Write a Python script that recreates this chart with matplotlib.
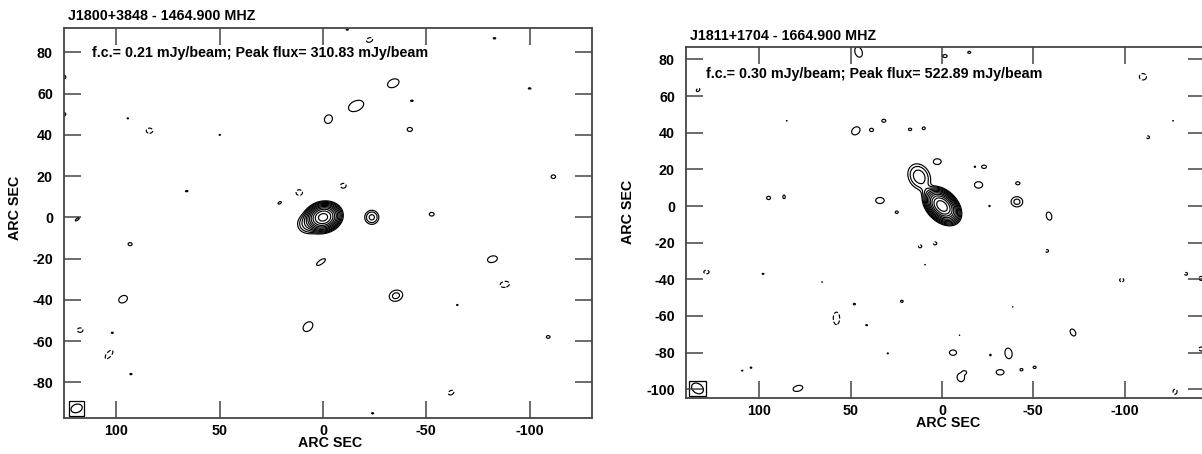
import numpy as np
import matplotlib
matplotlib.use("Agg")
import matplotlib.pyplot as plt
from matplotlib.patches import Rectangle, Ellipse

plt.rcParams['font.family'] = ['Liberation Sans', 'DejaVu Sans']
plt.rcParams['font.weight'] = 'bold'
plt.rcParams['axes.unicode_minus'] = False

W, H = 1202, 454
FS = 10.3

# ---------------- data: left map (J1800+3848) ----------------
title_L = "J1800+3848 - 1464.900 MHZ"
fc_text_L = "f.c.= 0.21 mJy/beam; Peak flux= 310.83 mJy/beam"
fc_L = 0.21
peak_L = 310.83
# sources: x, y (arcsec), peak (in units of f.c.), sigma major, sigma minor, angle (deg, data coords)
L_x    = [0.0, 6.0, -23.6, -16, -34, -2.6, -42, -43, -22.5, -11.7, -83, -100, 126, 126, 84, 94.5, 50, 66, 21, 11.5, -9.8, -52.6, -111.5, 119, 93.4, 1, 96.8, -82, -88, -35.3, -65, 7.3, 117.6, 102, 103.6, 93, -24, -62, -109]
L_y    = [0.0, -2.5, 0.0, 54, 65, 47.6, 42.6, 56.5, 86, 91, 86.8, 62.5, 68, 50, 42, 48, 40, 12.7, 7, 12, 15.3, 1.5, 19.7, -1, -13, -21.7, -39.7, -20.3, -32.5, -38, -42.5, -53, -54.7, -56, -66.5, -76, -95, -85, -58]
L_peak = [1480, 10, 5, 1.6, 1.6, 1.6, 1.6, 1.15, -1.6, 1.15, 1.15, 1.15, 1.6, 1.6, -1.6, 1.1, 1.1, 1.15, 1.3, -1.6, -1.6, 1.6, 1.6, 1.3, 1.4, 1.6, 1.6, 1.6, -1.6, 2.6, 1.1, 1.6, -1.5, 1.15, -1.6, 1.15, 1.15, -1.5, 1.4]
L_smaj = [2.6, 3.0, 1.9, 4.0, 3.0, 2.2, 1.3, 1.2, 1.6, 1.0, 1.2, 1.2, 1.5, 1.5, 1.6, 0.8, 0.8, 1.2, 1.2, 1.6, 1.4, 1.2, 1.1, 1.6, 1.2, 2.6, 2.3, 2.5, 2.3, 2.4, 0.9, 2.8, 1.5, 0.9, 2.6, 1.0, 1.0, 1.6, 1.1]
L_smin = [2.05, 2.4, 1.9, 2.5, 2.0, 1.9, 1.0, 0.6, 1.1, 0.5, 0.6, 0.6, 1.1, 1.1, 1.3, 0.6, 0.6, 0.6, 0.7, 1.4, 1.2, 0.9, 0.9, 0.6, 0.9, 1.0, 1.7, 1.6, 1.5, 1.9, 0.6, 2.0, 1.2, 0.6, 1.2, 0.6, 0.6, 1.1, 0.8]
L_ang  = [-15, -20, 0, -25, -25, -60, 0, 0, -20, 0, 0, 0, 0, 0, 0, 0, 0, 0, -30, 0, 0, 0, 0, -35, 0, -35, -30, -15, -10, -20, 0, -45, 0, 0, -50, 0, 0, -30, 0]
L_beam = (5.6, 4.0, -20)   # full major, full minor (arcsec), angle

# ---------------- data: right map (J1811+1704) ----------------
title_R = "J1811+1704 - 1664.900 MHZ"
fc_text_R = "f.c.= 0.30 mJy/beam; Peak flux= 522.89 mJy/beam"
fc_R = 0.30
peak_R = 522.89
R_x    = [0.0, 12.5, 7.5, 2.6, -23, -18, -20, -41.5, -41, -26, 34, 24.8, -58.6, 12, 3.8, 9.3, -57.5, 95, 86.5, 129, 98, 65.7, 48, 57.8, 41.3, 22, -38.7, -9.6, -71.7, 29.7, -6, -26.5, -36.4, -10.3, -12.4, -31.8, -43.5, -50.7, 109.4, 104.6, 78.9, -127.6, -133.6, -142, -142, -98.4, -112.8, -126.5, -110, 45.7, -1.6, -14.9, 133.6, 85, 47.2, 38.6, 31.9, 17.5, 10]
R_y    = [0.0, 16.0, 7.0, 24.2, 21.4, 21.4, 11.5, 12.4, 2.3, 0, 3, -3.4, -5.5, -22, -20.4, -32, -24.5, 4.4, 5, -36, -37, -41.5, -53.5, -61.3, -65, -52, -55, -70.4, -69, -80.4, -80, -81.3, -80.4, -93.5, -90.7, -90.7, -89.3, -88, -89.8, -88.2, -99.5, -101.3, -37, -39.5, -78, -40.4, 37.5, 46.5, 70.5, 84, 81.8, 83.8, 63.3, 46.5, 41, 41.5, 46.5, 41.8, 42.4]
R_peak = [1743, 6.5, 3.2, 1.6, 1.5, 1.1, 1.6, 1.5, 2.6, 1.1, 1.6, 1.4, 1.6, -1.5, -1.5, 1.05, -1.4, 1.5, 1.4, -1.6, 1.15, 1.05, 1.2, -1.6, 1.15, 1.3, 1.05, 1.05, 1.6, 1.1, 1.6, 1.15, 1.6, 1.6, 1.3, 1.6, 1.4, 1.4, 1.1, 1.15, 1.6, -1.5, -1.4, -1.5, -1.5, -1.5, -1.4, 1.05, -1.6, 1.6, 1.5, 1.4, -1.5, 1.05, 1.6, 1.5, 1.5, 1.4, 1.4]
R_smaj = [3.3, 3.8, 3.0, 2.2, 1.5, 0.8, 2.3, 1.3, 2.3, 0.8, 2.4, 1.0, 2.3, 1.0, 1.0, 0.7, 1.0, 1.2, 1.2, 1.5, 1.0, 0.7, 1.0, 3.5, 1.0, 1.0, 0.6, 0.6, 2.1, 0.8, 2.0, 0.8, 3.0, 2.4, 1.0, 2.2, 1.0, 1.0, 0.8, 0.9, 2.8, 1.5, 1.0, 1.5, 1.5, 1.3, 1.0, 0.7, 2.0, 3.0, 1.3, 1.0, 1.2, 0.7, 2.6, 1.2, 1.2, 1.1, 1.0]
R_smin = [2.2, 3.0, 1.8, 1.6, 1.0, 0.8, 1.8, 0.9, 2.0, 0.8, 1.7, 0.8, 1.5, 0.9, 0.9, 0.6, 0.9, 1.0, 0.8, 1.0, 0.5, 0.6, 0.7, 1.8, 0.5, 0.8, 0.5, 0.5, 1.4, 0.6, 1.5, 0.8, 2.0, 2.1, 0.8, 1.5, 0.8, 0.8, 0.6, 0.6, 1.6, 1.2, 0.9, 1.2, 1.2, 1.0, 0.9, 0.6, 1.8, 2.0, 0.9, 0.7, 0.8, 0.6, 2.0, 1.0, 0.9, 0.8, 0.9]
R_ang  = [45, 60, 60, 0, 0, 0, 0, 0, 0, 0, 0, 0, 75, 0, 0, 0, 0, 0, 90, 0, 0, 0, 0, 90, 0, 0, 0, 0, 60, 0, 0, 0, 80, 80, 0, 0, 0, 0, 0, 0, -15, 90, 0, 0, 0, 0, 0, 0, 0, 70, 0, 0, -40, 0, -40, 0, 0, 0, 0]
R_beam = (7.0, 5.2, 35)

levels = [-1] + [2 ** k for k in range(11)]

xg = np.arange(-150, 150.01, 0.25)
yg = np.arange(-110, 100.01, 0.25)
XX, YY = np.meshgrid(xg, yg)


def model(xs, ys, pk, smaj, smin, ang):
    img = np.zeros_like(XX)
    for x0, y0, a, s1, s2, t in zip(xs, ys, pk, smaj, smin, ang):
        th = np.deg2rad(t)
        dx, dy = XX - x0, YY - y0
        u = dx * np.cos(th) + dy * np.sin(th)
        v = -dx * np.sin(th) + dy * np.cos(th)
        img += a * np.exp(-0.5 * ((u / s1) ** 2 + (v / s2) ** 2))
    return img


fig = plt.figure(figsize=(W / 100, H / 100), dpi=100)


def pxbox(x0, y0, x1, y1):
    return [x0 / W, 1 - y1 / H, (x1 - x0) / W, (y1 - y0) / H]


def draw(rect, xlim, ylim, yticks, img, beam, beambox, title, title_xy, fctext, fc_xy,
         ylab_xy, xlab_xy, xpad):
    ax = fig.add_axes(rect)
    ls = ['dashed' if l < 0 else 'solid' for l in levels]
    ax.contour(XX, YY, img, levels=levels, colors='black', linewidths=0.85,
               linestyles=ls)
    ax.set_xlim(*xlim)
    ax.set_ylim(*ylim)
    ax.set_xticks([100, 50, 0, -50, -100])
    ax.set_yticks(yticks)
    ax.tick_params(direction='in', length=12, width=1.1, top=True, right=True,
                   labelsize=FS, color='#444444')
    ax.tick_params(axis='y', pad=8)
    ax.tick_params(axis='x', pad=xpad)
    for s in ax.spines.values():
        s.set_color('#444444')
        s.set_linewidth(1.3)
    for lab in ax.get_xticklabels() + ax.get_yticklabels():
        lab.set_fontweight('bold')
    bx0, bx1, by0, by1 = beambox
    ax.add_patch(Rectangle((bx1, by0), bx0 - bx1, by1 - by0, fill=False, lw=0.9,
                           ec='black'))
    ax.add_patch(Ellipse(((bx0 + bx1) / 2, (by0 + by1) / 2), beam[0], beam[1],
                         angle=beam[2], fill=False, lw=0.9, ec='black'))
    fig.text(title_xy[0] / W, 1 - title_xy[1] / H, title, fontsize=FS,
             fontweight='bold', ha='left', va='center')
    fig.text(fc_xy[0] / W, 1 - fc_xy[1] / H, fctext, fontsize=FS,
             fontweight='bold', ha='left', va='center')
    fig.text(ylab_xy[0] / W, 1 - ylab_xy[1] / H, "ARC SEC", fontsize=FS,
             fontweight='bold', rotation=90, ha='center', va='center')
    fig.text(xlab_xy[0] / W, 1 - xlab_xy[1] / H, "ARC SEC", fontsize=FS,
             fontweight='bold', ha='center', va='center')
    return ax


img_L = model(L_x, L_y, L_peak, L_smaj, L_smin, L_ang)
img_R = model(R_x, R_y, R_peak, R_smaj, R_smin, R_ang)

draw(pxbox(64, 28, 592, 418), (125.4, -130.2), (-97.3, 91.8), np.arange(-80, 81, 20),
     img_L, L_beam, (123.0, 115.6, -96.3, -89.0), title_L, (68, 16), fc_text_L, (92, 53),
     (15, 208), (330, 443), 4)
draw(pxbox(686, 46.7, 1205, 398.3), (140.2, -144.0), (-104.9, 86.9),
     np.arange(-100, 81, 20), img_R, R_beam, (138.6, 129.2, -103.5, -95.5), title_R,
     (690, 36), fc_text_R, (706, 74), (628, 212), (948, 423), 4)

fig.savefig("out.png", dpi=100)
